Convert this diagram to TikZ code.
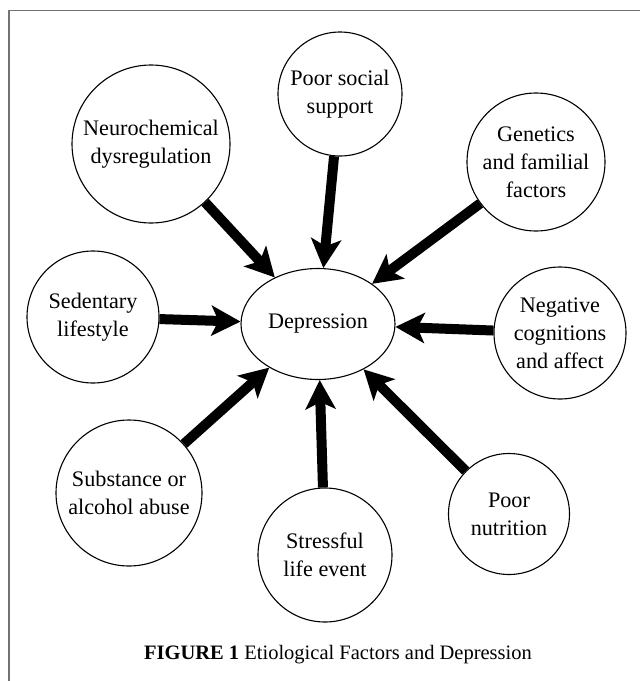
\documentclass[tikz,border=0pt]{standalone}
\usepackage{fontspec}
\setmainfont{Liberation Serif}
\usetikzlibrary{arrows.meta,shapes.geometric}
\begin{document}
\begin{tikzpicture}[x=1pt,y=-1pt,
  factor/.style={circle,draw=black,line width=1.1pt,inner sep=0pt,align=center,
    font=\fontsize{22.2}{28}\selectfont},
  centerbox/.style={ellipse,draw=black,line width=1.1pt,inner sep=0pt,
    minimum width=154pt,minimum height=111pt,font=\fontsize{22.2}{28}\selectfont},
  bigarrow/.style={line width=10pt,-{Stealth[length=29pt,width=30pt,inset=7pt]}},
  frameline/.style={draw=black!55,line width=1.2pt}]
\useasboundingbox (0,0) rectangle (640,681);
\coordinate (ftl) at (9,10.5);
\coordinate (ftr) at (641,10.5);
\coordinate (fbl) at (9,682);
\draw[frameline] (ftr) -- (ftl) -- (fbl);

\node[centerbox] (dep) at (318,324) {Depression};
\node[factor,minimum size=158pt] (neuro) at (151,144) {Neurochemical\\dysregulation};
\node[factor,minimum size=124pt] (social) at (340,94) {Poor social\\support};
\node[factor,minimum size=138pt] (gen) at (536,162) {Genetics\\and familial\\factors};
\node[factor,minimum size=132pt] (sed) at (93,317) {Sedentary\\lifestyle};
\node[factor,minimum size=132pt] (neg) at (560,333) {Negative\\cognitions\\and affect};
\node[factor,minimum size=146pt] (sub) at (129,493) {Substance or\\alcohol abuse};
\node[factor,minimum size=134pt] (stress) at (325,555) {Stressful\\life event};
\node[factor,minimum size=121pt] (nut) at (509,514) {Poor\\nutrition};

\foreach \s in {neuro,social,gen,sed,neg,sub,stress,nut}
  \draw[bigarrow] (\s) -- (dep);

\node[font=\fontsize{20.5}{24}\selectfont] (cap) at (338,655)
  {\textbf{FIGURE 1} Etiological Factors and Depression};
\end{tikzpicture}
\end{document}
